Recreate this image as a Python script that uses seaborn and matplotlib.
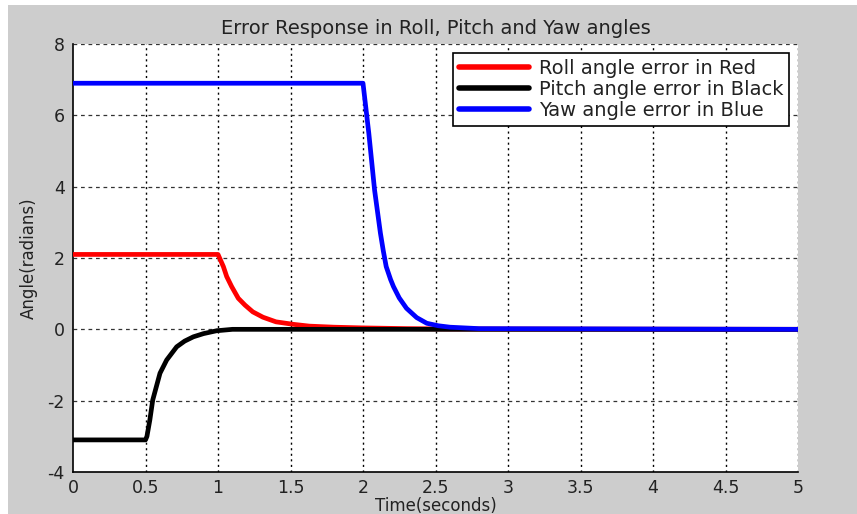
import matplotlib
matplotlib.use('Agg')
import matplotlib.pyplot as plt
from matplotlib.patches import Rectangle
import seaborn as sns
import pandas as pd

# values
roll_t = [0.0, 1.0, 1.037, 1.06, 1.094, 1.14, 1.186, 1.24, 1.31, 1.40, 1.52, 1.63, 1.8,
          2.0, 2.3, 2.6, 5.0]
roll_y = [2.1, 2.1, 1.76, 1.48, 1.2, 0.87, 0.68, 0.49, 0.34, 0.21, 0.14, 0.09, 0.06,
          0.04, 0.02, 0.01, 0.0]

pitch_t = [0.0, 0.5, 0.51, 0.53, 0.55, 0.6, 0.646, 0.715, 0.77, 0.83, 0.9, 0.99, 1.1, 5.0]
pitch_y = [-3.1, -3.1, -3.0, -2.54, -1.98, -1.23, -0.86, -0.49, -0.33, -0.21, -0.12, -0.04, 0.0, 0.0]

yaw_t = [0.0, 2.0, 2.02, 2.04, 2.06, 2.08, 2.1, 2.12, 2.14, 2.16, 2.19, 2.21, 2.25,
         2.3, 2.37, 2.44, 2.52, 2.6, 2.8, 5.0]
yaw_y = [6.9, 6.9, 6.2, 5.5, 4.7, 3.9, 3.3, 2.7, 2.2, 1.76, 1.4, 1.2, 0.88,
         0.59, 0.33, 0.17, 0.1, 0.06, 0.02, 0.0]

labels = ['Roll angle error in Red', 'Pitch angle error in Black', 'Yaw angle error in Blue']
colors = ['#FF0000', '#000000', '#0000FF']
x_ticks = [0, 0.5, 1, 1.5, 2, 2.5, 3, 3.5, 4, 4.5, 5]
x_ticklabels = ['0', '0.5', '1', '1.5', '2', '2.5', '3', '3.5', '4', '4.5', '5']
y_ticks = [-4, -2, 0, 2, 4, 6, 8]

sns.set_style('white')
plt.rcParams['font.family'] = ['DejaVu Sans']
plt.rcParams['axes.unicode_minus'] = False

fig = plt.figure(figsize=(8.57, 5.14), dpi=100, facecolor='white')
# grey matlab figure background (white strip left and top as in the scan)
bg = Rectangle((8 / 857, 0), 1 - 8 / 857, 509 / 514, transform=fig.transFigure,
               facecolor='#CDCDCD', edgecolor='none', zorder=-10)
fig.add_artist(bg)

ax = fig.add_axes([73 / 857, 42 / 514, 725 / 857, 428 / 514])
ax.set_facecolor('white')

series = [(roll_t, roll_y), (pitch_t, pitch_y), (yaw_t, yaw_y)]
for (t, y), lab, col in zip(series, labels, colors):
    df = pd.DataFrame({'t': t, 'y': y})
    sns.lineplot(data=df, x='t', y='y', ax=ax, color=col, linewidth=3.4,
                 label=lab, sort=False, estimator=None, zorder=3)

ax.set_xlim(0, 5)
ax.set_ylim(-4, 8)
ax.set_xticks(x_ticks)
ax.set_xticklabels(x_ticklabels)
ax.set_yticks(y_ticks)

# matlab style dotted grid
for xv in x_ticks[1:]:
    ax.axvline(xv, color='black', linewidth=1.0, linestyle=(0, (1.5, 2.5)), zorder=1)
for yv in y_ticks[1:]:
    ax.axhline(yv, color='#333333', linewidth=0.9, linestyle=(0, (3, 3)), zorder=1)

for s in ['top', 'right']:
    ax.spines[s].set_visible(False)
for s in ['left', 'bottom']:
    ax.spines[s].set_color('black')
    ax.spines[s].set_linewidth(1.2)

ax.tick_params(direction='in', length=5, width=1, colors='black',
               labelsize=12.5, labelcolor='#222222', pad=5)
ax.tick_params(axis='y', pad=6)

ax.set_title('Error Response in Roll, Pitch and Yaw angles', fontsize=14,
             color='#222222', pad=7)
ax.set_xlabel('Time(seconds)', fontsize=12, color='#222222', labelpad=0)
ax.set_ylabel('Angle(radians)', fontsize=12, color='#222222', labelpad=7)

leg = ax.legend(loc='upper right', bbox_to_anchor=(0.988, 0.979), borderaxespad=0,
                fontsize=14, frameon=True, fancybox=False, framealpha=1,
                edgecolor='black', handlelength=3.6, handletextpad=0.5,
                labelspacing=0.1, borderpad=0.3)
leg.get_frame().set_linewidth(1.2)
for line in leg.get_lines():
    line.set_linewidth(4)
for txt in leg.get_texts():
    txt.set_color('#222222')

fig.savefig('out.png', dpi=100, facecolor=fig.get_facecolor())
